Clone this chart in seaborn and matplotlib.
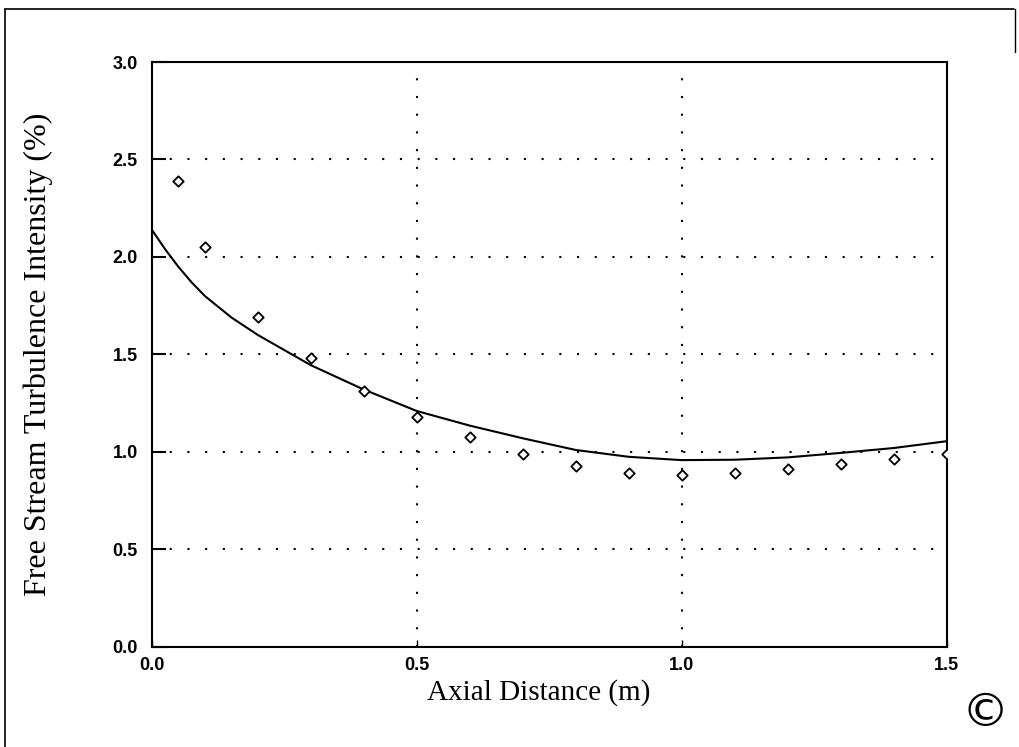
import matplotlib
matplotlib.use("Agg")
import matplotlib.pyplot as plt
from matplotlib.lines import Line2D
import pandas as pd
import seaborn as sns

# measured points (open diamonds)
point_x = [0.05, 0.10, 0.20, 0.30, 0.40, 0.50, 0.60, 0.70, 0.80, 0.90,
           1.00, 1.10, 1.20, 1.30, 1.40, 1.50]
point_y = [2.39, 2.05, 1.69, 1.48, 1.315, 1.18, 1.075, 0.99, 0.93, 0.89,
           0.88, 0.89, 0.915, 0.94, 0.965, 0.99]

# fitted curve
curve_x = [0.0, 0.025, 0.05, 0.075, 0.10, 0.15, 0.20, 0.30, 0.40, 0.50, 0.60,
           0.70, 0.80, 0.90, 1.00, 1.10, 1.20, 1.30, 1.40, 1.50]
curve_y = [2.14, 2.04, 1.95, 1.87, 1.80, 1.69, 1.60, 1.445, 1.32, 1.21, 1.135,
           1.07, 1.01, 0.975, 0.958, 0.96, 0.972, 0.995, 1.02, 1.055]

x_ticks = [0.0, 0.5, 1.0, 1.5]
y_ticks = [0.0, 0.5, 1.0, 1.5, 2.0, 2.5, 3.0]

points = pd.DataFrame({"x": point_x, "y": point_y})
curve = pd.DataFrame({"x": curve_x, "y": curve_y})

sns.set_theme(style="white")
plt.rcParams["font.family"] = ["Liberation Sans", "DejaVu Sans"]

fig = plt.figure(figsize=(10.19, 7.47), dpi=100)
ax = fig.add_axes([0.149, 0.134, 0.780, 0.783])

sns.lineplot(data=curve, x="x", y="y", ax=ax, color="black", linewidth=1.5,
             sort=False, estimator=None)
sns.scatterplot(data=points, x="x", y="y", ax=ax, marker="D", s=28,
                facecolor="white", edgecolor="black", linewidth=1.3, zorder=3)

ax.set_xlim(0, 1.5)
ax.set_ylim(0, 3.0)
ax.set_xticks(x_ticks)
ax.set_yticks(y_ticks)
ax.set_xticklabels([f"{v:.1f}" for v in x_ticks], fontsize=13, fontweight="bold")
ax.set_yticklabels([f"{v:.1f}" for v in y_ticks], fontsize=13, fontweight="bold")
ax.tick_params(axis="y", left=True, direction="in", length=10, width=1.5,
               colors="black", pad=10)
ax.tick_params(axis="x", bottom=True, direction="in", length=5, width=1.0,
               colors="black", pad=7)

# dotted grid lines
for gx in [0.5, 1.0]:
    ax.axvline(gx, color="black", linewidth=1.5, linestyle=(0, (1, 7.5)), zorder=1)
for gy in [0.5, 1.0, 1.5, 2.0, 2.5]:
    ax.axhline(gy, color="black", linewidth=1.5, linestyle=(0, (1, 7.5)), zorder=1)

for side in ["left", "right", "top", "bottom"]:
    ax.spines[side].set_visible(True)
    ax.spines[side].set_color("black")
    ax.spines[side].set_linewidth(1.5)

ax.set_xlabel("Axial Distance (m)", family=["Liberation Serif", "DejaVu Serif"],
              fontsize=21, color="black")
ax.xaxis.set_label_coords(0.487, -0.055)
ax.set_ylabel("Free Stream Turbulence Intensity (%)",
              family=["Liberation Serif", "DejaVu Serif"], fontsize=23,
              labelpad=43, color="black")

# scanned page frame
fig.add_artist(Line2D([0.005, 0.995], [0.988, 0.988], color="black", lw=1.2))
fig.add_artist(Line2D([0.005, 0.005], [0.0, 0.988], color="black", lw=1.2))
fig.add_artist(Line2D([0.996, 0.996], [0.93, 0.988], color="black", lw=1.0))

# corner mark
fig.text(0.967, 0.045, "\u00a9", fontsize=34, ha="center", va="center",
         family=["DejaVu Sans"], color="black")

fig.savefig("out.png", dpi=100)
